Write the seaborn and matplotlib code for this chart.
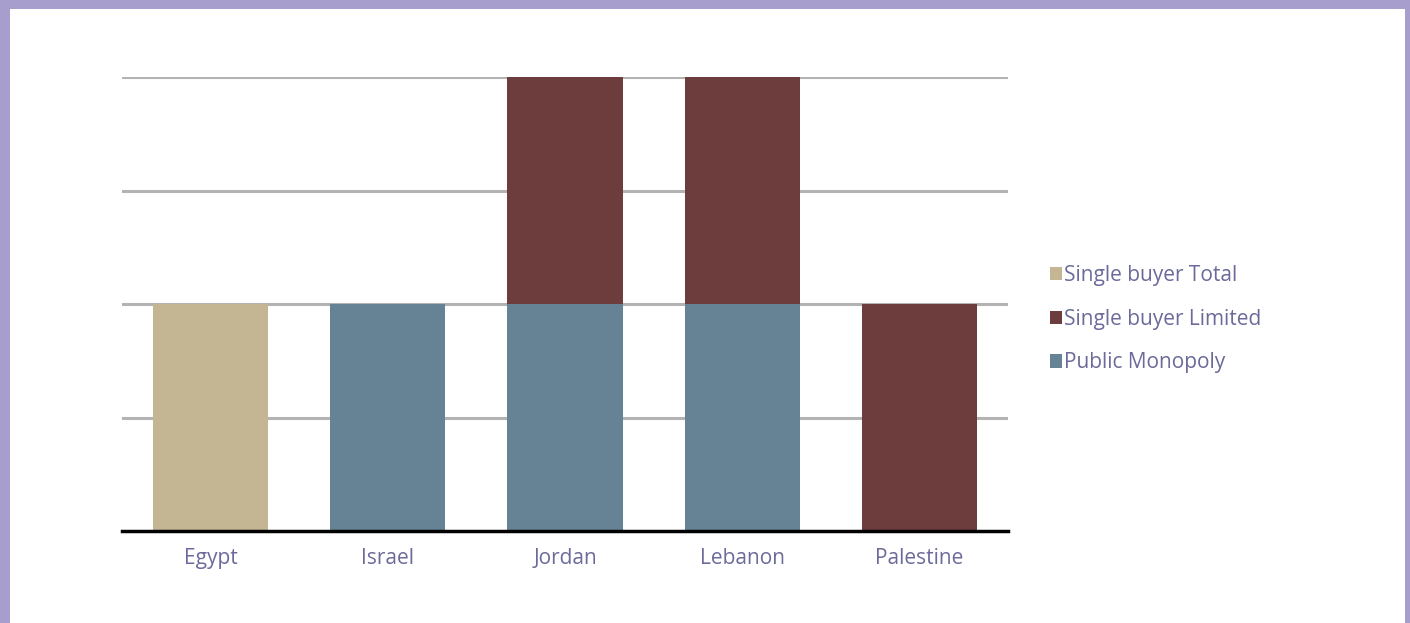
import numpy as np
import pandas as pd
import matplotlib
matplotlib.use("Agg")
import matplotlib.pyplot as plt
from matplotlib.patches import Patch
import seaborn as sns

countries = ["Egypt", "Israel", "Jordan", "Lebanon", "Palestine"]
single_buyer_total = [2, 0, 0, 0, 0]
single_buyer_limited = [0, 0, 2, 2, 2]
public_monopoly = [0, 2, 2, 2, 0]

series_names = ["Single buyer Total", "Single buyer Limited", "Public Monopoly"]
series_colors = ["#c4b693", "#6d3d3e", "#668395"]
text_color = "#6b6a9a"
border_color = "#a89ecd"

df = pd.DataFrame({
    "country": countries,
    "sbt": single_buyer_total,
    "sbl": single_buyer_limited,
    "pm": public_monopoly,
})
# cumulative heights for stacking (PM at bottom, SBL above)
df["pm_sbl"] = df["pm"] + df["sbl"]

sns.set_style("white")
plt.rcParams["font.family"] = ["Open Sans", "DejaVu Sans"]

fig = plt.figure(figsize=(14.1, 6.23), dpi=100)
fig.patch.set_facecolor(border_color)
# white panel inside the purple frame
fig.add_artist(plt.Rectangle((10 / 1410, 0), (1405 - 10) / 1410, (623 - 9) / 623,
                             transform=fig.transFigure, facecolor="white",
                             edgecolor="none", zorder=0))

ax = fig.add_axes([122 / 1410, 1 - 531 / 623, (1008 - 122) / 1410, (531 - 77) / 623])
ax.set_facecolor("none")

bar_kws = dict(order=countries, width=0.65, saturation=1, ax=ax, zorder=3,
               edgecolor="none", linewidth=0)
sns.barplot(data=df, x="country", y="pm_sbl", color=series_colors[1], **bar_kws)
sns.barplot(data=df, x="country", y="pm", color=series_colors[2], **bar_kws)
sns.barplot(data=df, x="country", y="sbt", color=series_colors[0], **bar_kws)

ax.set_ylim(0, 4)
ax.set_xlim(-0.5, 4.5)
ax.set_yticks([1, 2, 3, 4])
ax.yaxis.grid(True, color="#b3b3b3", linewidth=2.2, zorder=0)
ax.set_axisbelow(True)
ax.tick_params(axis="y", left=False, labelleft=False)
ax.tick_params(axis="x", bottom=False, labelsize=15, labelcolor=text_color, pad=9)
ax.set_xlabel("")
ax.set_ylabel("")
for side in ["top", "right", "left"]:
    ax.spines[side].set_visible(False)
ax.spines["bottom"].set_color("black")
ax.spines["bottom"].set_linewidth(2.5)
ax.spines["bottom"].set_zorder(5)

handles = [Patch(facecolor=c, edgecolor="none") for c in series_colors]
leg = fig.legend(handles, series_names, loc="center left", bbox_to_anchor=(1031 / 1410, 1 - 319 / 623),
                 frameon=False, fontsize=15, labelcolor=text_color, handlelength=0.6,
                 handleheight=0.6, handletextpad=0.1, labelspacing=1.1)

fig.savefig("out.png", dpi=100, facecolor=fig.get_facecolor())
